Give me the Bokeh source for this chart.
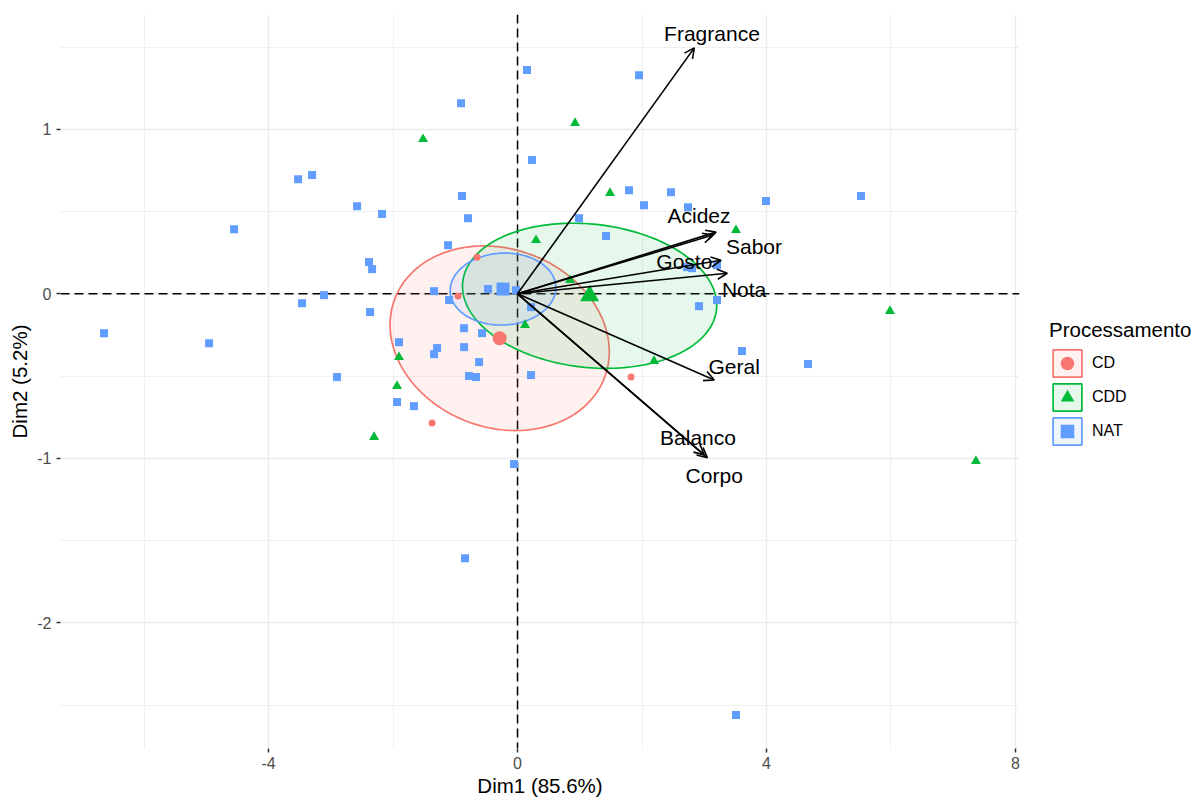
import numpy as np
from bokeh.plotting import figure
from bokeh.models import (ColumnDataSource, Arrow, OpenHead, Span, Legend, LegendItem,
                          FixedTicker, Range1d)
from bokeh.embed import file_html
from bokeh.resources import INLINE
from bokeh.core.properties import value

FONT = "Liberation Sans"

groups = ["CD", "CDD", "NAT"]
colors = ["#F8766D", "#00BA38", "#619CFF"]
markers = ["circle", "triangle", "square"]
point_sizes = [7, 10, 8]
centroid_sizes = [14, 19, 13]

cd_x = [-0.956, -0.650, 1.823, -1.373]
cd_y = [-0.014, 0.223, -0.506, -0.786]

cdd_x = [-1.518, 0.924, 1.486, 3.510, 0.297, 0.843, 5.984, 7.365, -2.305, -1.936, -1.904, 0.120, 2.193]
cdd_y = [0.940, 1.038, 0.612, 0.387, 0.326, 0.083, -0.105, -1.017, -0.871, -0.561, -0.385, -0.190, -0.409]

nat_x = [0.153, 1.952, -0.908, 0.233, -3.526, -3.301, -0.892, 1.791, 2.466, 5.518, 3.992, -2.578,
         -2.177, 2.032, 2.739, -0.795, 0.988, -4.554, 1.422, -1.116, -2.386, -2.337, 2.723, 2.803,
         3.205, -3.462, -3.108, -2.369, -2.900, -6.643, -4.956, -1.341, -1.100, -0.474, -0.024,
         0.217, -0.859, -0.570, -1.904, -1.293, -1.341, -0.859, -0.618, -0.779, -0.667, 0.217,
         -1.936, -1.663, -0.056, -0.843, 3.510, 2.916, 3.205, 3.606, 4.667]
nat_y = [1.360, 1.329, 1.159, 0.813, 0.697, 0.722, 0.594, 0.630, 0.618, 0.594, 0.564, 0.533,
         0.485, 0.539, 0.527, 0.460, 0.460, 0.393, 0.351, 0.296, 0.193, 0.150, 0.162, 0.156,
         0.174, -0.057, -0.008, -0.111, -0.506, -0.239, -0.300, 0.016, -0.038, 0.029, 0.022,
         -0.081, -0.209, -0.239, -0.294, -0.330, -0.367, -0.324, -0.415, -0.500, -0.506, -0.494,
         -0.658, -0.683, -1.035, -1.607, -2.561, -0.075, -0.038, -0.348, -0.427]

# group means as shown in the picture
centroid_x = [-0.287, 1.158, -0.233]
centroid_y = [-0.270, -0.012, 0.029]

variables = ["Fragrance", "Acidez", "Sabor", "Gosto", "Nota", "Geral", "Balanco", "Corpo"]
var_x = [2.84, 3.19, 3.14, 3.27, 3.37, 3.16, 3.00, 3.05]
var_y = [1.495, 0.375, 0.357, 0.204, 0.125, -0.524, -0.979, -0.997]
label_x = [3.124, 2.916, 3.799, 2.68, 3.64, 3.48, 2.90, 3.16]
label_y = [1.585, 0.479, 0.290, 0.199, 0.029, -0.44, -0.871, -1.102]

x_ticks = [-4, 0, 4, 8]
x_tick_labels = ["-4", "0", "4", "8"]
y_ticks = [-2, -1, 0, 1]
y_tick_labels = ["-2", "-1", "0", "1"]

group_x = [cd_x, cdd_x, nat_x]
group_y = [cd_y, cdd_y, nat_y]


def confidence_ellipse(xs, ys, cx, cy, level=0.95, npts=200):
    pts = np.column_stack([xs, ys])
    cov = np.cov(pts.T) / len(xs)
    t = np.sqrt(-2.0 * np.log(1.0 - level))
    vals, vecs = np.linalg.eigh(cov)
    th = np.linspace(0, 2 * np.pi, npts)
    circ = np.vstack([np.cos(th), np.sin(th)])
    e = vecs @ np.diag(np.sqrt(vals)) @ circ * t
    return cx + e[0], cy + e[1]


p = figure(frame_width=959, frame_height=734,
           x_range=Range1d(-7.343, 8.065), y_range=Range1d(-2.764, 1.698),
           output_backend="svg", toolbar_location=None,
           min_border_left=60, min_border_right=175, min_border_top=14, min_border_bottom=50)
p.outline_line_color = None
p.background_fill_color = "white"
p.border_fill_color = "white"

xt = FixedTicker(ticks=x_ticks, minor_ticks=[-6, -2, 2, 6])
yt = FixedTicker(ticks=y_ticks, minor_ticks=[-2.5, -1.5, -0.5, 0.5, 1.5])
p.xaxis.ticker = xt
p.yaxis.ticker = yt
p.xgrid.ticker = xt
p.ygrid.ticker = yt
p.xaxis.major_label_overrides = {t: s for t, s in zip(x_ticks, x_tick_labels)}
p.yaxis.major_label_overrides = {t: s for t, s in zip(y_ticks, y_tick_labels)}
for g in (p.xgrid, p.ygrid):
    g.grid_line_color = "#EBEBEB"
    g.grid_line_width = 1.4
    g.minor_grid_line_color = "#F0F0F0"
    g.minor_grid_line_width = 1.0

for ax in (p.xaxis, p.yaxis):
    ax.axis_line_color = None
    ax.major_tick_line_color = "#333333"
    ax.major_tick_line_width = 1.5
    ax.major_tick_out = 4
    ax.major_tick_in = 0
    ax.minor_tick_line_color = None
    ax.major_label_text_font = FONT
    ax.major_label_text_font_size = "16px"
    ax.major_label_text_color = "#4D4D4D"
    ax.axis_label_text_font = FONT
    ax.axis_label_text_font_size = "20.5px"
    ax.axis_label_text_font_style = "normal"
    ax.axis_label_text_color = "black"
p.xaxis.major_label_standoff = 4
p.yaxis.major_label_standoff = 5
p.xaxis.axis_label = "Dim1 (85.6%)"
p.yaxis.axis_label = "Dim2 (5.2%)"
p.xaxis.axis_label_standoff = 2
p.yaxis.axis_label_standoff = 3

for dim in ("height", "width"):
    p.add_layout(Span(location=0, dimension=dim, line_color="black", line_width=1.5,
                      line_dash="9 5", level="underlay"))

items = []
patch_rs = []
point_rs = []
for i, g in enumerate(groups):
    ex, ey = confidence_ellipse(group_x[i], group_y[i], centroid_x[i], centroid_y[i])
    pr = p.patch(ex, ey, fill_color=colors[i], fill_alpha=0.1, line_color=colors[i], line_width=1.7)
    patch_rs.append(pr)
for i, g in enumerate(groups):
    sr = p.scatter(group_x[i], group_y[i], marker=markers[i], size=point_sizes[i],
                   fill_color=colors[i], line_color=colors[i], line_width=0)
    point_rs.append(sr)
for i, g in enumerate(groups):
    p.scatter([centroid_x[i]], [centroid_y[i]], marker=markers[i], size=centroid_sizes[i],
              fill_color=colors[i], line_color=colors[i], line_width=0)
    items.append(LegendItem(label=g, renderers=[patch_rs[i], point_rs[i]]))

p.text(label_x, label_y, text=variables, text_font=value(FONT), text_font_size="21px",
       text_align="center", text_baseline="middle", text_color="black")

asrc = ColumnDataSource(dict(x0=[0.0] * len(var_x), y0=[0.0] * len(var_y), x1=var_x, y1=var_y))
p.add_layout(Arrow(x_start="x0", y_start="y0", x_end="x1", y_end="y1", source=asrc,
                   line_color="black", line_width=1.6,
                   end=OpenHead(size=10, line_color="black", line_width=1.6)))

legend = Legend(items=items, location=(30, 300), title="Processamento")
legend.title_text_font = FONT
legend.title_text_font_size = "20.5px"
legend.title_text_font_style = "normal"
legend.title_text_color = "black"
legend.title_standoff = 4
legend.label_text_font = FONT
legend.label_text_font_size = "16px"
legend.label_text_color = "black"
legend.glyph_width = 36
legend.glyph_height = 34
legend.spacing = 0
legend.label_standoff = 7
legend.padding = 0
legend.margin = 0
legend.border_line_color = None
legend.background_fill_alpha = 0
p.add_layout(legend, "right")

open("out.html", "w").write(file_html(p, INLINE))
